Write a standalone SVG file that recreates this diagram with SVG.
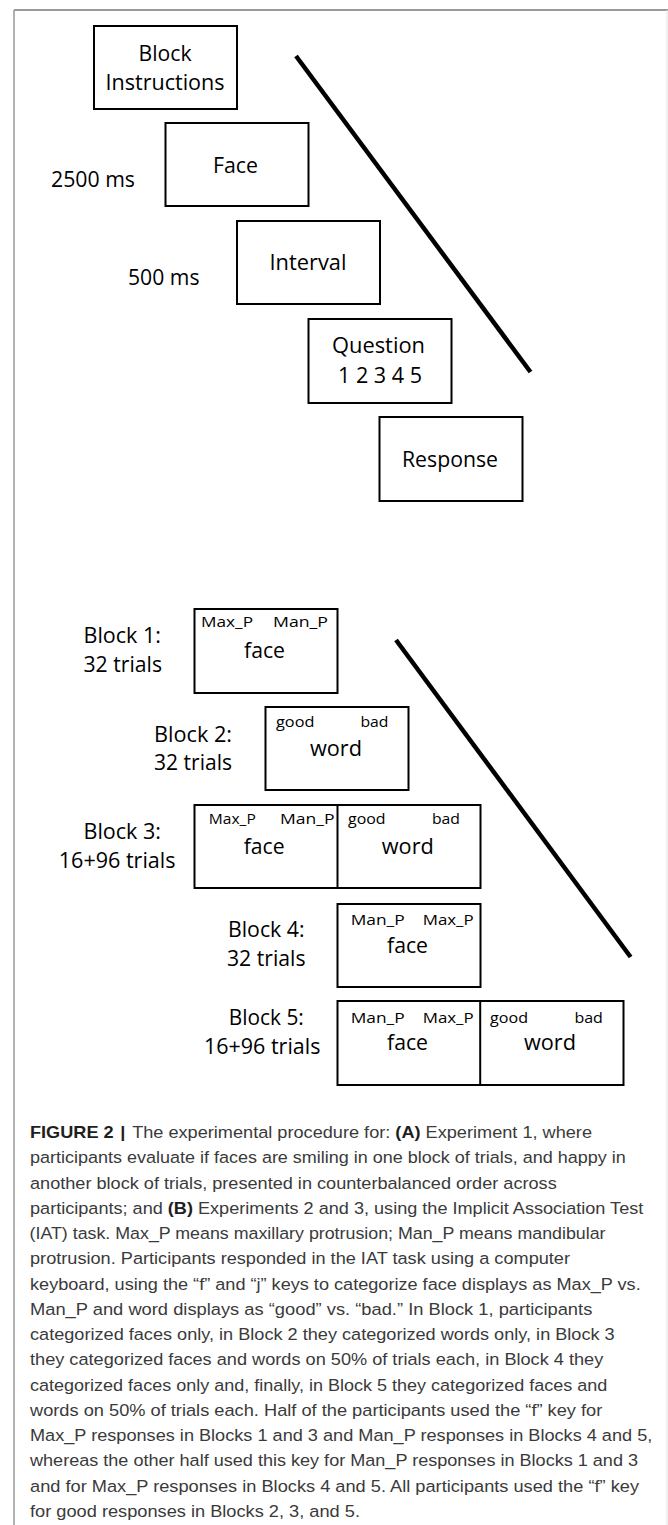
<svg xmlns="http://www.w3.org/2000/svg" width="668" height="1525" viewBox="0 0 668 1525">
<style>
.box{fill:#fff;stroke:#000;stroke-width:2}
.div{stroke:#000;stroke-width:2}
.t{font-family:"Open Sans","Liberation Sans",sans-serif;font-size:21px;fill:#000}
.s{font-family:"Open Sans","Liberation Sans",sans-serif;font-size:15px;fill:#000}
.tl{stroke:#000;stroke-width:4.5;stroke-linecap:butt}
.cap{font-family:"Liberation Sans",Arial,sans-serif;font-size:16.3px;fill:#3a3a3a}
.b{font-weight:bold;fill:#1e1e1e}
</style>
<rect x="0" y="0" width="668" height="1525" fill="#fff"/>
<g id="frame">
<line x1="14" y1="10" x2="668" y2="10" stroke="#777" stroke-width="1.5"/>
<line x1="14" y1="10" x2="14" y2="1525" stroke="#999" stroke-width="1.5"/>
<line x1="667" y1="10" x2="667" y2="1525" stroke="#e2e2e2" stroke-width="1"/>
</g>
<g id="connectors">
<line class="tl" x1="296" y1="56" x2="530.5" y2="372"/>
<line class="tl" x1="396" y1="640" x2="630.6" y2="957"/>
</g>
<g id="block-instructions">
<rect class="box" x="94" y="26" width="143" height="83"/>
<text class="t" x="138.5" y="61" textLength="53" lengthAdjust="spacingAndGlyphs">Block</text>
<text class="t" x="105.5" y="90" textLength="119" lengthAdjust="spacingAndGlyphs">Instructions</text>
</g>
<g id="face">
<rect class="box" x="165.5" y="123" width="143" height="83"/>
<text class="t" x="213" y="173" textLength="45" lengthAdjust="spacingAndGlyphs">Face</text>
<text class="t" x="51" y="187" textLength="84" lengthAdjust="spacingAndGlyphs">2500 ms</text>
</g>
<g id="interval">
<rect class="box" x="237" y="221" width="143" height="83"/>
<text class="t" x="269.5" y="270" textLength="77" lengthAdjust="spacingAndGlyphs">Interval</text>
<text class="t" x="128" y="285" textLength="71.5" lengthAdjust="spacingAndGlyphs">500 ms</text>
</g>
<g id="question">
<rect class="box" x="308.5" y="319" width="143" height="84"/>
<text class="t" x="332" y="353" textLength="93" lengthAdjust="spacingAndGlyphs">Question</text>
<text class="t" x="338" y="383" textLength="84" lengthAdjust="spacingAndGlyphs">1 2 3 4 5</text>
</g>
<g id="response">
<rect class="box" x="379.5" y="417" width="143" height="84"/>
<text class="t" x="402" y="467" textLength="96" lengthAdjust="spacingAndGlyphs">Response</text>
</g>
<g id="block1">
<text class="t" x="83.5" y="643" textLength="77.5" lengthAdjust="spacingAndGlyphs">Block 1:</text>
<text class="t" x="83.5" y="672" textLength="78.5" lengthAdjust="spacingAndGlyphs">32 trials</text>
<rect class="box" x="194.5" y="609" width="143" height="84"/>
<text class="s" x="201" y="627" textLength="52" lengthAdjust="spacingAndGlyphs">Max_P</text>
<text class="s" x="273" y="627" textLength="55" lengthAdjust="spacingAndGlyphs">Man_P</text>
<text class="t" x="244" y="658" textLength="41" lengthAdjust="spacingAndGlyphs">face</text>
</g>
<g id="block2">
<text class="t" x="154" y="742" textLength="78" lengthAdjust="spacingAndGlyphs">Block 2:</text>
<text class="t" x="154" y="770" textLength="78" lengthAdjust="spacingAndGlyphs">32 trials</text>
<rect class="box" x="265.5" y="707" width="143" height="83"/>
<text class="s" x="276" y="727" textLength="38.4" lengthAdjust="spacingAndGlyphs">good</text>
<text class="s" x="360.5" y="727" textLength="28" lengthAdjust="spacingAndGlyphs">bad</text>
<text class="t" x="310" y="756" textLength="52" lengthAdjust="spacingAndGlyphs">word</text>
</g>
<g id="block3">
<text class="t" x="83.5" y="839" textLength="77.5" lengthAdjust="spacingAndGlyphs">Block 3:</text>
<text class="t" x="58.8" y="868" textLength="116.7" lengthAdjust="spacingAndGlyphs">16+96 trials</text>
<rect class="box" x="194.5" y="805" width="286" height="83"/>
<line class="div" x1="337.5" y1="805" x2="337.5" y2="888"/>
<text class="s" x="208.8" y="824" textLength="47" lengthAdjust="spacingAndGlyphs">Max_P</text>
<text class="s" x="280" y="824" textLength="54.5" lengthAdjust="spacingAndGlyphs">Man_P</text>
<text class="t" x="243.7" y="854" textLength="41" lengthAdjust="spacingAndGlyphs">face</text>
<text class="s" x="348" y="824" textLength="37.6" lengthAdjust="spacingAndGlyphs">good</text>
<text class="s" x="432" y="824" textLength="28" lengthAdjust="spacingAndGlyphs">bad</text>
<text class="t" x="381.8" y="854" textLength="52" lengthAdjust="spacingAndGlyphs">word</text>
</g>
<g id="block4">
<text class="t" x="228" y="937" textLength="76.6" lengthAdjust="spacingAndGlyphs">Block 4:</text>
<text class="t" x="227" y="966" textLength="78.5" lengthAdjust="spacingAndGlyphs">32 trials</text>
<rect class="box" x="337.5" y="904" width="143" height="83"/>
<text class="s" x="350.7" y="925" textLength="54" lengthAdjust="spacingAndGlyphs">Man_P</text>
<text class="s" x="422.7" y="925" textLength="51" lengthAdjust="spacingAndGlyphs">Max_P</text>
<text class="t" x="387" y="953" textLength="41" lengthAdjust="spacingAndGlyphs">face</text>
</g>
<g id="block5">
<text class="t" x="228.8" y="1025" textLength="75" lengthAdjust="spacingAndGlyphs">Block 5:</text>
<text class="t" x="204" y="1054" textLength="116.4" lengthAdjust="spacingAndGlyphs">16+96 trials</text>
<rect class="box" x="337.5" y="1001" width="286" height="84"/>
<line class="div" x1="480.2" y1="1001" x2="480.2" y2="1085"/>
<text class="s" x="350.7" y="1023" textLength="54" lengthAdjust="spacingAndGlyphs">Man_P</text>
<text class="s" x="422.7" y="1023" textLength="51" lengthAdjust="spacingAndGlyphs">Max_P</text>
<text class="t" x="387" y="1050" textLength="41" lengthAdjust="spacingAndGlyphs">face</text>
<text class="s" x="490" y="1023" textLength="38" lengthAdjust="spacingAndGlyphs">good</text>
<text class="s" x="574.4" y="1023" textLength="28.5" lengthAdjust="spacingAndGlyphs">bad</text>
<text class="t" x="524" y="1050" textLength="52" lengthAdjust="spacingAndGlyphs">word</text>
</g>
<g id="caption" class="cap">
<text x="30" y="1138" textLength="562" lengthAdjust="spacingAndGlyphs"><tspan class="b">FIGURE 2</tspan><tspan class="b" dx="6">|</tspan><tspan dx="6">The experimental procedure for: </tspan><tspan class="b">(A)</tspan> Experiment 1, where</text>
<text x="30" y="1163.2" textLength="595.7" lengthAdjust="spacingAndGlyphs">participants evaluate if faces are smiling in one block of trials, and happy in</text>
<text x="30" y="1188.5" textLength="526.7" lengthAdjust="spacingAndGlyphs">another block of trials, presented in counterbalanced order across</text>
<text x="30" y="1213.7" textLength="613.3" lengthAdjust="spacingAndGlyphs">participants; and <tspan class="b">(B)</tspan> Experiments 2 and 3, using the Implicit Association Test</text>
<text x="29.5" y="1239" textLength="576" lengthAdjust="spacingAndGlyphs">(IAT) task. Max_P means maxillary protrusion; Man_P means mandibular</text>
<text x="30" y="1264.2" textLength="540" lengthAdjust="spacingAndGlyphs">protrusion. Participants responded in the IAT task using a computer</text>
<text x="30" y="1289.5" textLength="610.7" lengthAdjust="spacingAndGlyphs">keyboard, using the “f” and “j” keys to categorize face displays as Max_P vs.</text>
<text x="30" y="1314.7" textLength="562.3" lengthAdjust="spacingAndGlyphs">Man_P and word displays as “good” vs. “bad.” In Block 1, participants</text>
<text x="30" y="1340" textLength="584.7" lengthAdjust="spacingAndGlyphs">categorized faces only, in Block 2 they categorized words only, in Block 3</text>
<text x="30" y="1365.2" textLength="573.3" lengthAdjust="spacingAndGlyphs">they categorized faces and words on 50% of trials each, in Block 4 they</text>
<text x="30" y="1390.5" textLength="577.3" lengthAdjust="spacingAndGlyphs">categorized faces only and, finally, in Block 5 they categorized faces and</text>
<text x="30" y="1415.7" textLength="572.3" lengthAdjust="spacingAndGlyphs">words on 50% of trials each. Half of the participants used the “f” key for</text>
<text x="30" y="1441" textLength="622.3" lengthAdjust="spacingAndGlyphs">Max_P responses in Blocks 1 and 3 and Man_P responses in Blocks 4 and 5,</text>
<text x="30" y="1466.2" textLength="608" lengthAdjust="spacingAndGlyphs">whereas the other half used this key for Man_P responses in Blocks 1 and 3</text>
<text x="30" y="1491.5" textLength="609" lengthAdjust="spacingAndGlyphs">and for Max_P responses in Blocks 4 and 5. All participants used the “f” key</text>
<text x="30" y="1516.7" textLength="330" lengthAdjust="spacingAndGlyphs">for good responses in Blocks 2, 3, and 5.</text>
</g>
</svg>
